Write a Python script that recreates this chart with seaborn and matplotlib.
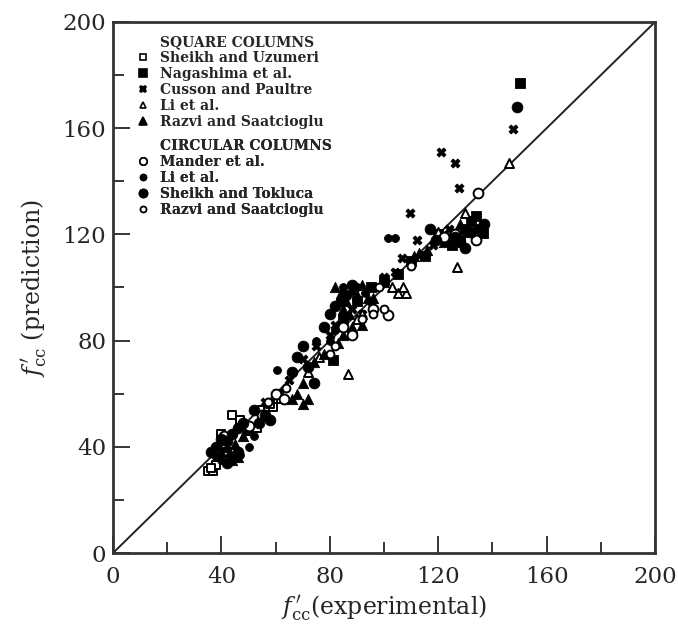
import matplotlib
matplotlib.use("Agg")
import matplotlib.pyplot as plt
from matplotlib.lines import Line2D
from matplotlib.ticker import MultipleLocator
import numpy as np
import pandas as pd
import seaborn as sns

# square columns
uzumeri_x = [35, 37, 38, 36, 44, 53, 55, 57, 59, 61, 47, 40, 42, 50, 58, 62]
uzumeri_y = [31, 31, 33, 32, 52, 47, 54, 55, 55, 60, 50, 45, 38, 46, 56, 58]

nagashima_x = [150, 136.5, 81, 130, 128, 125, 120, 90, 95, 100, 85, 110, 115, 105, 132, 134]
nagashima_y = [177, 120.5, 72.7, 122, 118, 116, 120, 95, 100, 103, 88, 110, 112, 105, 125, 127]

cusson_x = [147.6, 121, 126, 127.5, 109.6, 112, 106.6, 100, 95, 88, 75, 80, 82, 92, 118, 124, 104, 70, 65, 56]
cusson_y = [159.7, 151, 147, 137.5, 128, 118, 111, 104, 95, 92, 78, 82, 86, 90, 116, 122, 106, 73, 65, 57]

li_sq_x = [146, 127, 86.7, 105, 108, 103, 107, 92, 72, 76, 62, 130, 86, 90, 120]
li_sq_y = [147, 107.7, 67.4, 98, 98, 100, 100, 90, 68, 74, 60, 128, 83, 88, 121]

razvi_sq_x = [111, 113, 116, 100, 96, 92, 88, 83, 85, 78, 74, 70, 68, 66, 45, 48, 42, 50, 40,
              122, 125, 128, 131, 70, 72, 46, 44, 82, 84, 86, 88, 90, 92, 85, 87, 94]
razvi_sq_y = [112, 113, 114, 102, 96, 86, 85, 79, 82, 75, 72, 64, 60, 58, 41, 44, 40, 47, 38,
              117, 121, 124, 121, 56, 58, 36, 35, 100, 98, 95, 99, 97, 101, 92, 90, 96]

# circular columns
mander_x = [134.7, 101.5, 134, 122, 126, 60, 63, 55, 85, 88, 41, 50, 38, 96]
mander_y = [135.6, 89.6, 118, 119, 120, 60, 58, 52, 85, 82, 44, 48, 39, 92]

li_circ_x = [101.5, 104, 60.5, 47, 45, 40, 43, 38, 50, 52, 80, 82, 90, 93, 85, 75]
li_circ_y = [118.6, 118.6, 69, 37, 36, 35, 37, 36, 40, 44, 80, 84, 100, 98, 100, 80]

tokluca_x = [149, 137, 135, 132, 130, 128, 126, 119, 117, 86, 88, 84, 80, 82, 78, 70, 68, 72, 74,
             66, 56, 58, 52, 54, 46, 48, 44, 42, 38, 40, 36, 42, 46]
tokluca_y = [168, 124, 122, 121, 115, 117, 119, 118, 122, 97, 101, 95, 90, 93, 85, 78, 74, 70, 64,
             68, 52, 50, 54, 49, 47, 49, 45, 42, 40, 43, 38, 34, 38]

razvi_circ_x = [98, 110, 100, 80, 82, 64, 57, 92, 96]
razvi_circ_y = [100, 108, 92, 75, 78, 62, 57, 88, 90]

sns.set_style("ticks")
plt.rcParams["font.family"] = ["DejaVu Serif"]
plt.rcParams["mathtext.fontset"] = "dejavuserif"

fig = plt.figure(figsize=(6.78, 6.3), dpi=100)
ax = fig.add_axes([0.1667, 0.1222, 0.7995, 0.843])

# name, x, y, marker, filled, size
square_series = [
    ("Sheikh and Uzumeri", uzumeri_x, uzumeri_y, "s", False, 32),
    ("Nagashima et al.", nagashima_x, nagashima_y, "s", True, 50),
    ("Cusson and Paultre", cusson_x, cusson_y, "X", True, 42),
    ("Li et al.", li_sq_x, li_sq_y, "^", False, 42),
    ("Razvi and Saatcioglu", razvi_sq_x, razvi_sq_y, "^", True, 55),
]
circular_series = [
    ("Mander et al.", mander_x, mander_y, "o", False, 50),
    ("Li et al.", li_circ_x, li_circ_y, "o", True, 32),
    ("Sheikh and Tokluca", tokluca_x, tokluca_y, "o", True, 60),
    ("Razvi and Saatcioglu", razvi_circ_x, razvi_circ_y, "o", False, 32),
]

for name, xs, ys, mk, filled, s in square_series + circular_series:
    df = pd.DataFrame({"x": xs, "y": ys})
    if filled:
        sns.scatterplot(data=df, x="x", y="y", ax=ax, marker=mk, s=s,
                        color="black", edgecolor="black", linewidth=0.6, zorder=3)
    else:
        sns.scatterplot(data=df, x="x", y="y", ax=ax, marker=mk, s=s,
                        facecolor="white", edgecolor="black", linewidth=1.4, zorder=3)

ax.plot([0, 200], [0, 200], color="#222222", lw=1.4, zorder=2)

ax.set_xlim(0, 200)
ax.set_ylim(0, 200)
ax.xaxis.set_major_locator(MultipleLocator(40))
ax.yaxis.set_major_locator(MultipleLocator(40))
ax.xaxis.set_minor_locator(MultipleLocator(20))
ax.yaxis.set_minor_locator(MultipleLocator(20))
ax.tick_params(which="major", direction="in", length=12, width=1.3, labelsize=16.5, pad=5)
ax.tick_params(axis="x", which="major", pad=9)
ax.tick_params(which="minor", direction="in", length=8, width=1.3)
for sp in ax.spines.values():
    sp.set_linewidth(2)
    sp.set_color("#333333")

ax.set_xlabel(r"$f^{\,\prime}_{\rm cc}$(experimental)", fontsize=17, labelpad=4)
ax.set_ylabel(r"$f^{\,\prime}_{\rm cc}$ (prediction)", fontsize=17, labelpad=10)

# two legend blocks, each with a header row
blank = Line2D([], [], linestyle="none", marker=None)


def block_legend(header, items, anchor):
    handles, labels = [blank], [header]
    for name, xs, ys, mk, filled, s in items:
        handles.append(Line2D([], [], linestyle="none", marker=mk,
                              markersize=np.sqrt(s) * 0.75,
                              markerfacecolor="black" if filled else "white",
                              markeredgecolor="black", markeredgewidth=1.2))
        labels.append(name)
    leg = ax.legend(handles, labels, loc="upper left", bbox_to_anchor=anchor,
                    frameon=False, prop={"size": 10, "weight": "bold"},
                    handlelength=0.8, handletextpad=0.8,
                    labelspacing=0.14, borderpad=0.0, borderaxespad=0.0)
    ax.add_artist(leg)
    return leg


block_legend("SQUARE COLUMNS", square_series, (0.045, 0.975))
block_legend("CIRCULAR COLUMNS", circular_series, (0.045, 0.78))

fig.savefig("out.png", dpi=100)
